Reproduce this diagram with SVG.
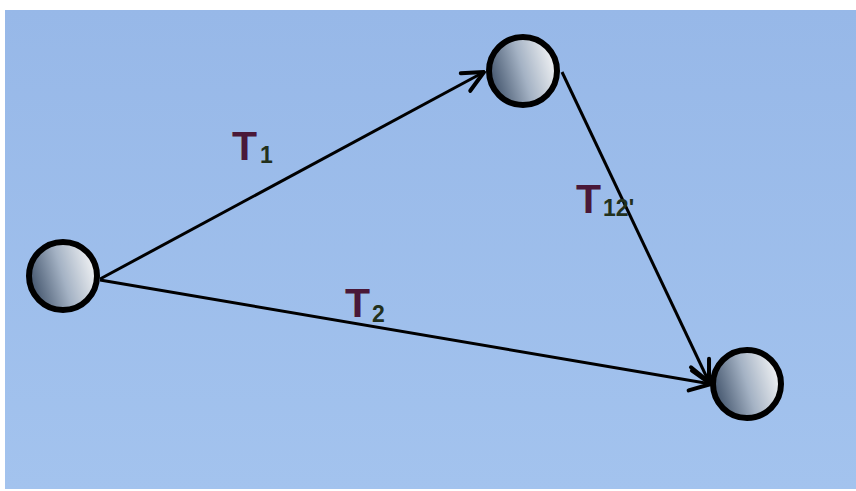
<svg xmlns="http://www.w3.org/2000/svg" width="856" height="491" viewBox="0 0 856 491">
<defs>
<linearGradient id="bg" x1="0" y1="0" x2="0" y2="1">
<stop offset="0" stop-color="#97b8e8"/>
<stop offset="1" stop-color="#a3c3ee"/>
</linearGradient>
<linearGradient id="ball" x1="0" y1="0.65" x2="1" y2="0.35">
<stop offset="0" stop-color="#3e5068"/>
<stop offset="0.5" stop-color="#a4b2c4"/>
<stop offset="1" stop-color="#f4f5f6"/>
</linearGradient>
<marker id="arr" viewBox="0 0 26 26" refX="24" refY="13" markerWidth="26" markerHeight="26" markerUnits="userSpaceOnUse" orient="auto">
<path d="M3,3 L24,13 L3,23" fill="none" stroke="#000" stroke-width="4" stroke-linecap="round" stroke-linejoin="round"/>
</marker>
<style>
.node{fill:url(#ball);stroke:#000;stroke-width:6}
.edge{fill:none;stroke:#000;stroke-width:3;marker-end:url(#arr)}
.lbl{font-family:"Liberation Sans",Arial,sans-serif;font-weight:bold}
.T{fill:#4a1838;font-size:41px}
.sub{fill:#22301c;font-size:23px}
</style>
</defs>
<rect x="0" y="0" width="856" height="491" fill="#ffffff"/>
<rect x="5" y="10" width="851" height="479" fill="url(#bg)"/>
<g id="connectors">
<line class="edge" x1="100" y1="279" x2="484" y2="72"/>
<line class="edge" x1="100" y1="280" x2="711" y2="384"/>
<line class="edge" x1="562" y1="72" x2="709" y2="382"/>
</g>
<g id="n1"><circle class="node" cx="63" cy="276" r="34"/></g>
<g id="n2"><circle class="node" cx="523" cy="71" r="34"/></g>
<g id="n3"><circle class="node" cx="747" cy="384" r="34"/></g>
<g id="label-T1"><text class="lbl" x="232" y="160"><tspan class="T">T</tspan><tspan class="sub" dx="3" dy="3">1</tspan></text></g>
<g id="label-T12"><text class="lbl" x="576" y="213"><tspan class="T">T</tspan><tspan class="sub" dx="2" dy="3">12'</tspan></text></g>
<g id="label-T2"><text class="lbl" x="345" y="317"><tspan class="T">T</tspan><tspan class="sub" dx="2" dy="5">2</tspan></text></g>
</svg>
